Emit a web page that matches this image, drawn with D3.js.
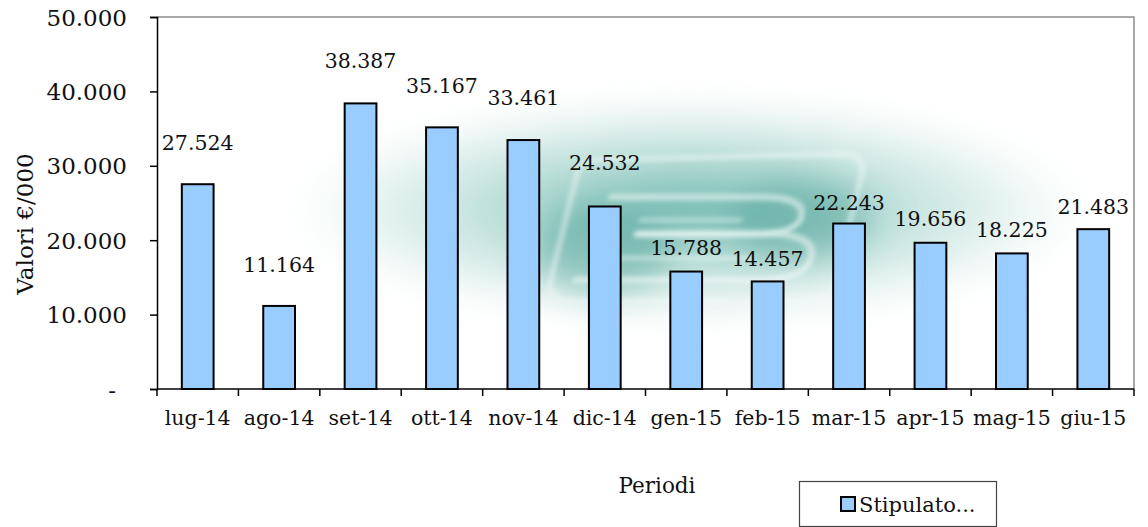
<!DOCTYPE html>
<html>
<head>
<meta charset="utf-8">
<script src="https://cdn.jsdelivr.net/npm/d3@7"></script>
<style>
  html, body { margin: 0; padding: 0; background: #ffffff; }
  svg { display: block; font-family: "DejaVu Serif", "Liberation Serif", serif; }
</style>
</head>
<body>
<svg id="chart" width="1148" height="527"></svg>
<script>
// Monthly stipulated amounts (€/000), July 2014 – June 2015
const periods = ["lug-14", "ago-14", "set-14", "ott-14", "nov-14", "dic-14",
                 "gen-15", "feb-15", "mar-15", "apr-15", "mag-15", "giu-15"];
const stipulato = [27524, 11164, 38387, 35167, 33461, 24532,
                   15788, 14457, 22243, 19656, 18225, 21483];
const yTicks = [0, 10000, 20000, 30000, 40000, 50000];
const seriesName = "Stipulato...";
const xTitle = "Periodi";
const yTitle = "Valori €/000";
// how far each value label sits above the top of its bar (px)
const labelLift = [41, 41, 42, 41, 42, 43, 24, 22, 21, 24, 23, 22];

const it = d3.formatLocale({ decimal: ",", thousands: ".", grouping: [3], currency: ["€", ""] });
const fmt = it.format(",d");

const svg = d3.select("#chart");
const plot = { left: 157, right: 1134, top: 17, bottom: 389 };

const x = d3.scaleBand().domain(periods).range([plot.left, plot.right]).padding(0);
const y = d3.scaleLinear().domain([0, 50000]).range([plot.bottom, plot.top]);

// ---- soft teal logo in the background ----
const defs = svg.append("defs");
const grad = defs.append("radialGradient").attr("id", "glow")
  .attr("cx", "50%").attr("cy", "50%").attr("r", "50%");
grad.append("stop").attr("offset", "0%").attr("stop-color", "#4aa69a").attr("stop-opacity", 0.8);
grad.append("stop").attr("offset", "40%").attr("stop-color", "#7cc0b5").attr("stop-opacity", 0.6);
grad.append("stop").attr("offset", "75%").attr("stop-color", "#c4e3dd").attr("stop-opacity", 0.45);
grad.append("stop").attr("offset", "100%").attr("stop-color", "#ffffff").attr("stop-opacity", 0);
defs.append("filter").attr("id", "soft").attr("x", "-50%").attr("y", "-50%").attr("width", "200%").attr("height", "200%")
  .append("feGaussianBlur").attr("stdDeviation", 16);
defs.append("filter").attr("id", "ridge").attr("x", "-20%").attr("y", "-20%").attr("width", "140%").attr("height", "140%")
  .append("feGaussianBlur").attr("stdDeviation", 2.5);

const logo = svg.append("g").attr("class", "logo");
logo.append("ellipse")
  .attr("cx", 690).attr("cy", 210).attr("rx", 420).attr("ry", 120)
  .attr("fill", "url(#glow)").attr("filter", "url(#soft)");
logo.append("ellipse")
  .attr("cx", 600).attr("cy", 250).attr("rx", 70).attr("ry", 45)
  .attr("fill", "#2f8f84").attr("opacity", 0.35).attr("filter", "url(#soft)");
logo.append("ellipse")
  .attr("cx", 800).attr("cy", 220).attr("rx", 70).attr("ry", 40)
  .attr("fill", "#2f8f84").attr("opacity", 0.35).attr("filter", "url(#soft)");

const ridges = logo.append("g")
  .attr("transform", "translate(700,222) skewX(-14)")
  .attr("fill", "none").attr("stroke", "#f1f9f7").attr("stroke-linecap", "round")
  .attr("filter", "url(#ridge)");
// rounded frame
ridges.append("path")
  .attr("d", "M-120,-62 Q-135,-62 -135,-45 L-135,55 Q-135,80 -110,80 L125,80 Q150,80 150,55 L150,-45 Q150,-68 125,-68 Z")
  .attr("stroke-width", 5).attr("opacity", 0.6);
// inner loops
ridges.append("path")
  .attr("d", "M-95,-25 L55,-25 Q100,-25 100,-5 Q100,12 55,12 L-60,12")
  .attr("stroke-width", 6).attr("opacity", 0.65);
ridges.append("path")
  .attr("d", "M-60,12 L70,12 Q120,12 120,36 Q120,58 70,58 L-110,58")
  .attr("stroke-width", 6).attr("opacity", 0.65);
ridges.append("path")
  .attr("d", "M-60,-2 L40,-2")
  .attr("stroke-width", 4).attr("opacity", 0.55);
ridges.append("path")
  .attr("d", "M-80,36 L60,36")
  .attr("stroke-width", 4).attr("opacity", 0.55);

// ---- plot frame: grey top and right edges ----
svg.append("path")
  .attr("d", `M${plot.left},${plot.top}H${plot.right}V${plot.bottom}`)
  .attr("fill", "none").attr("stroke", "#8c8c8c").attr("stroke-width", 1.5);

// ---- bars ----
const barW = x.bandwidth() * 0.39;
svg.append("g").selectAll("rect").data(periods).join("rect")
  .attr("x", (d) => x(d) + (x.bandwidth() - barW) / 2)
  .attr("y", (d, i) => y(stipulato[i]))
  .attr("width", barW)
  .attr("height", (d, i) => y(0) - y(stipulato[i]))
  .attr("fill", "#99ccff")
  .attr("stroke", "#000000").attr("stroke-width", 2);

// ---- value labels ----
svg.append("g").selectAll("text").data(periods).join("text")
  .attr("x", (d) => x(d) + x.bandwidth() / 2)
  .attr("y", (d, i) => y(stipulato[i]) - labelLift[i])
  .attr("text-anchor", "middle").attr("dominant-baseline", "central")
  .attr("font-size", 20.5).attr("fill", "#111")
  .text((d, i) => fmt(stipulato[i]));

// ---- y axis ----
const yAxis = svg.append("g").attr("transform", `translate(${plot.left},0)`)
  .call(d3.axisLeft(y).tickValues(yTicks).tickSize(7).tickPadding(0)
    .tickFormat((d) => (d === 0 ? "-" : fmt(d))));
yAxis.select(".domain").attr("stroke", "#000").attr("stroke-width", 1.5);
yAxis.selectAll(".tick line").attr("stroke", "#000").attr("stroke-width", 1.5);
yAxis.selectAll(".tick text")
  .attr("font-family", "DejaVu Serif, serif").attr("font-size", 23).attr("fill", "#111")
  .attr("x", (d) => (d === 0 ? -41 : -30)).attr("dy", "0.35em");

// ---- x axis: ticks on category boundaries ----
const xg = svg.append("g");
xg.append("line")
  .attr("x1", plot.left).attr("x2", plot.right).attr("y1", plot.bottom).attr("y2", plot.bottom)
  .attr("stroke", "#000").attr("stroke-width", 1.5);
const bounds = periods.map((d) => x(d)).concat([plot.right]);
xg.selectAll("line.tk").data(bounds).join("line").attr("class", "tk")
  .attr("x1", (d) => d).attr("x2", (d) => d)
  .attr("y1", plot.bottom).attr("y2", plot.bottom + 7)
  .attr("stroke", "#000").attr("stroke-width", 1.5);
xg.selectAll("text").data(periods).join("text")
  .attr("x", (d) => x(d) + x.bandwidth() / 2).attr("y", 425)
  .attr("text-anchor", "middle").attr("font-size", 20.5).attr("fill", "#111")
  .text((d) => d);

// ---- axis titles ----
svg.append("text").attr("x", 657).attr("y", 493)
  .attr("text-anchor", "middle").attr("font-size", 21.5).attr("fill", "#111").text(xTitle);
svg.append("text").attr("transform", "translate(33,224) rotate(-90)")
  .attr("text-anchor", "middle").attr("font-size", 23).attr("fill", "#111").text(yTitle);

// ---- legend ----
const lg = svg.append("g");
lg.append("rect").attr("x", 799.5).attr("y", 481.5).attr("width", 197).attr("height", 45)
  .attr("fill", "#fff").attr("stroke", "#444").attr("stroke-width", 1.2);
lg.append("rect").attr("x", 841).attr("y", 497).attr("width", 14).attr("height", 14)
  .attr("fill", "#99ccff").attr("stroke", "#000").attr("stroke-width", 2);
lg.append("text").attr("x", 859).attr("y", 512).attr("font-size", 21).attr("fill", "#111").text(seriesName);
</script>
</body>
</html>
